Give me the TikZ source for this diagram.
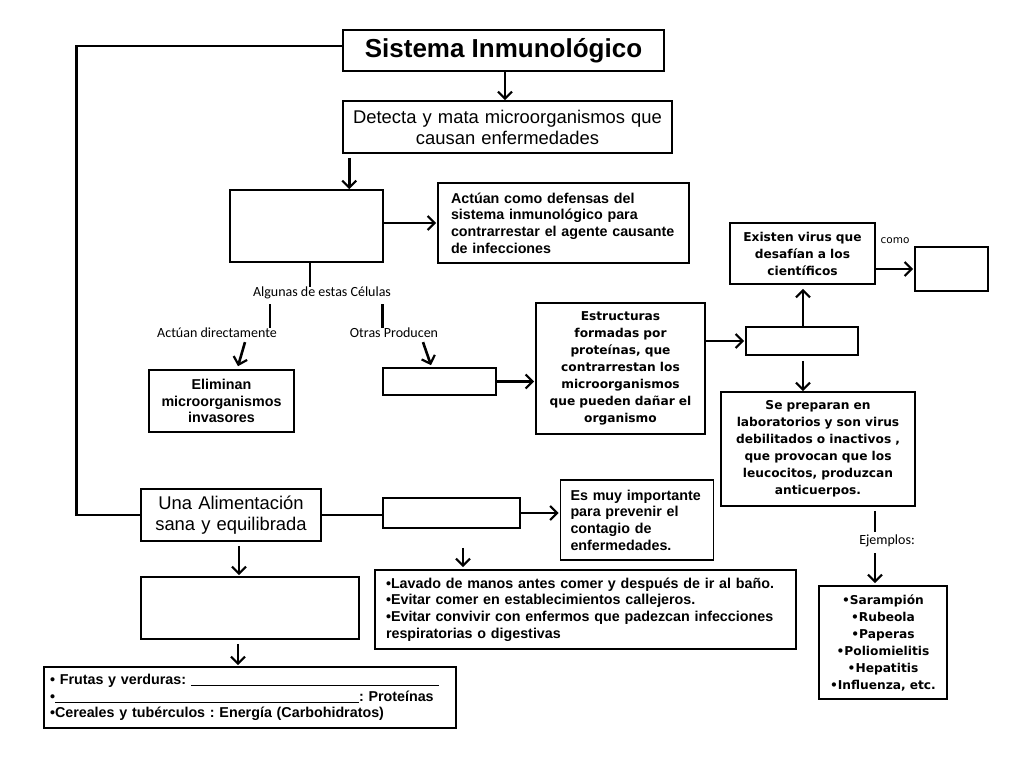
\documentclass[tikz,border=0pt]{standalone}
\usepackage{fontspec}
\setmainfont{Liberation Sans}
\newfontfamily\verd{DejaVu Sans}
\newfontfamily\cali{Carlito}
\frenchspacing
\usepackage{tikz}
\usetikzlibrary{arrows.meta}
\usetikzlibrary{positioning,calc}
\tikzset{
    box/.style={
        draw,
        line width=1.6pt,
        fill=white,
        inner sep=0pt
    },
    link/.style={
        line width=2.6pt
    },
    arrow/.style={
        link,
        -{Straight Barb[length=7pt, width=14pt, line width=2.2pt]}
    },
    lbl/.style={
        font=\cali\fontsize{14}{16}\selectfont,
        inner sep=0pt
    },
    vtext/.style={
        font=\verd\bfseries\fontsize{12.2}{17}\selectfont,
        align=center
    },
    atext/.style={
        font=\bfseries\fontsize{14.3}{16.6}\selectfont
    },
    rtext/.style={
        font=\fontsize{18.4}{21}\selectfont,
        align=center
    }
}

\begin{document}
\begin{tikzpicture}[x=1pt, y=-1pt]
    \useasboundingbox[fill=white] (0,0) rectangle (1024,768);

    % Boxes - top
    \node[box, minimum width=321pt, minimum height=41pt,
          font=\bfseries\fontsize{26}{30}\selectfont] (title) at (503.5,50.5) {Sistema Inmunológico};
    \node[box, rtext, text width=329pt, minimum height=52pt] (detect) at (507.5,127)
        {Detecta y mata microorganismos que\\causan enfermedades};
    \node[box, minimum width=153pt, minimum height=72pt] (cells) at (306.5,226) {};
    \node[box, atext, align=left, text width=225pt, inner xsep=13pt, minimum height=80pt] (defense) at (563.5,223)
        {Actúan como defensas del\\sistema inmunológico para\\contrarrestar el agente causante\\de infecciones};

    % Labels
    \node[lbl] (some) at (322,293) {Algunas de estas Células};
    \node[lbl] (direct) at (217,333) {Actúan directamente};
    \node[lbl] (others) at (394,333) {Otras Producen};
    \node[lbl, font=\verd\fontsize{10.5}{12}\selectfont] (como) at (895,241) {como};
    \node[lbl] (ejemplos) at (887,541) {Ejemplos:};

    % Boxes - middle
    \node[box, atext, align=center, text width=145pt, minimum height=62pt] (elim) at (221.5,401)
        {Eliminan\\microorganismos\\invasores};
    \node[box, minimum width=113pt, minimum height=27pt] (produce) at (439.5,381.5) {};
    \node[box, vtext, text width=169pt, minimum height=131pt] (struct) at (620.5,368.5)
        {Estructuras\\formadas por\\proteínas, que\\contrarrestan los\\microorganismos\\que pueden dañar el\\organismo};
    \node[box, minimum width=112pt, minimum height=28pt] (vaccine) at (802,341) {};
    \node[box, vtext, text width=145pt, minimum height=61pt] (virus) at (802.5,253.5)
        {Existen virus que\\desafían a los\\científicos};
    \node[box, minimum width=73pt, minimum height=44pt] (kind) at (951.5,269) {};
    \node[box, vtext, text width=194pt, minimum height=114pt] (prep) at (818,449)
        {Se preparan en\\laboratorios y son virus\\debilitados o inactivos ,\\que provocan que los\\leucocitos, produzcan\\anticuerpos.};
    \node[box, vtext, text width=128pt, minimum height=113pt] (examples) at (883,642.5)
        {•Sarampión\\•Rubeola\\•Paperas\\•Poliomielitis\\•Hepatitis\\•Influenza, etc.};

    % Boxes - bottom
    \node[box, rtext, text width=180pt, minimum height=52pt] (diet) at (231,515)
        {Una Alimentación\\sana y equilibrada};
    \node[box, minimum width=137pt, minimum height=30pt] (hygiene) at (451.5,513) {};
    \node[box, atext, align=left, text width=133pt, inner xsep=10pt, minimum height=80pt] (important) at (637,520)
        {Es muy importante\\para prevenir el\\contagio de\\enfermedades.};
    \node[box, atext, align=left, text width=399pt, inner xsep=11pt, minimum height=79pt] (habits) at (585.5,609.5)
        {•Lavado de manos antes comer y después de ir al baño.\\
         •Evitar comer en establecimientos callejeros.\\
         •Evitar convivir con enfermos que padezcan infecciones\\
         respiratorias o digestivas};
    \node[box, minimum width=218pt, minimum height=62pt] (foods) at (250,608) {};
    \node[box, atext, align=left, text width=400pt, inner xsep=6pt, minimum height=61pt] (groups) at (250,697.5)
        {• Frutas y verduras: \rule[-1.5pt]{248pt}{1pt}\\
         •\rule[-1.5pt]{304pt}{1pt}: Proteínas\\
         •Cereales y tubérculos : Energía (Carbohidratos)};

    % Connectors
    \draw[arrow] ([xshift=1.5pt]title.south) -- ([xshift=1.5pt]title.south |- detect.north);
    \draw[arrow] ([xshift=7pt, yshift=-4pt]detect.south west) -- ([xshift=7pt]detect.south west |- cells.north);
    \draw[arrow] (cells.east |- defense.west) -- ([xshift=-1pt]defense.west);
    \draw[link] ([xshift=3.5pt]cells.south) -- ([xshift=3.5pt]cells.south |- some.north);
    \draw[link] ([xshift=17pt, yshift=-5pt]some.south west) -- ([xshift=17pt]some.south west |- direct.north);
    \draw[link] ([xshift=-9pt, yshift=-5pt]some.south east) -- ([xshift=-9pt]some.south east |- others.north);
    \draw[arrow] ([xshift=28pt, yshift=-4pt]direct.south) -- ([xshift=16.5pt, yshift=3pt]elim.north);
    \draw[arrow] ([xshift=29pt, yshift=-4pt]others.south) -- ([xshift=-8.5pt, yshift=2pt]produce.north);
    \draw[arrow] (produce.east) -- ([xshift=-1pt]produce.east -| struct.west);
    \draw[arrow] (struct.east |- vaccine.west) -- ([xshift=-1pt]vaccine.west);
    \draw[arrow] ([xshift=1pt]vaccine.north) -- ([xshift=1pt, yshift=-4pt]vaccine.north |- virus.south);
    \draw[arrow] (virus.east |- kind.west) -- ([xshift=-1pt]kind.west);
    \draw[arrow] ([xshift=1pt, yshift=-5pt]vaccine.south) -- ([xshift=1pt]vaccine.south |- prep.north);
    \draw[link] ([xshift=57pt, yshift=-4pt]prep.south) -- ([xshift=57pt, yshift=3pt]prep.south |- ejemplos.north);
    \draw[arrow] ([xshift=-8pt, yshift=-6pt]examples.north |- ejemplos.south) -- ([xshift=-8pt, yshift=2pt]examples.north);
    \draw[link] ([yshift=4.5pt]title.west) -- ++(-266,0) |- (diet.west);
    \draw[link] (diet.east) -- (diet.east -| hygiene.west);
    \draw[arrow] (hygiene.east) -- ([xshift=-1pt]hygiene.east -| important.west);
    \draw[arrow] ([xshift=11.5pt, yshift=-19pt]hygiene.south) -- ([xshift=11.5pt, yshift=2pt]hygiene.south |- habits.north);
    \draw[arrow] ([xshift=8pt, yshift=-4pt]diet.south) -- ([xshift=8pt, yshift=1pt]diet.south |- foods.north);
    \draw[arrow] ([xshift=-12pt, yshift=-4pt]foods.south) -- ([xshift=-12pt, yshift=1pt]foods.south |- groups.north);
\end{tikzpicture}
\end{document}
